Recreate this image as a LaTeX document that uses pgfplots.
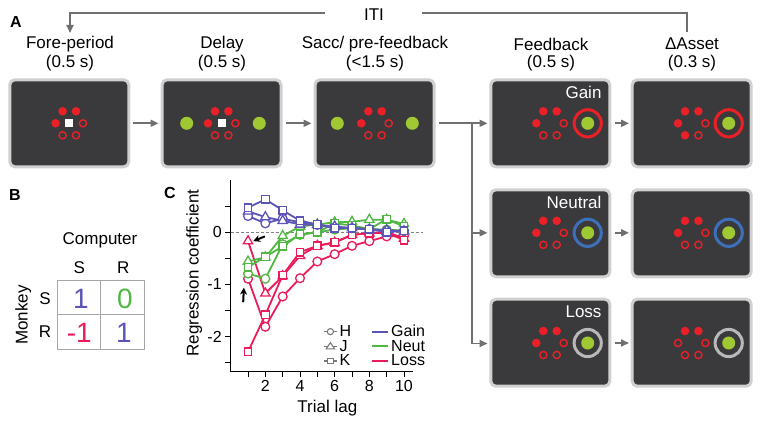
\documentclass[border=0pt]{standalone}
\usepackage{fontspec}
\setmainfont{Liberation Sans}
\usepackage{pgfplots}
\usepackage{pgfplotstable}
\pgfplotsset{compat=1.18}
\usetikzlibrary{arrows.meta}

\definecolor{cblue}{RGB}{92,84,182}
\definecolor{cgreen}{RGB}{80,184,66}
\definecolor{cred}{RGB}{234,28,90}
\definecolor{scr}{RGB}{58,58,60}
\definecolor{scrb}{RGB}{208,208,208}
\definecolor{dotred}{RGB}{234,32,40}
\definecolor{dotgreen}{RGB}{160,200,50}
\definecolor{ringblue}{RGB}{62,112,186}
\definecolor{ringgray}{RGB}{184,184,184}
\definecolor{agray}{RGB}{112,112,112}
\definecolor{lgray}{RGB}{120,120,120}

\pgfplotstableread{
lag gH gJ gK nH nJ nK lH lJ lK
1 0.31 0.40 0.47 -0.79 -0.56 -0.67 -0.89 -0.17 -2.29
2 0.17 0.29 0.63 -0.89 -0.48 -0.47 -1.81 -1.17 -1.58
3 0.26 0.22 0.42 -0.23 -0.07 -0.27 -1.23 -0.84 -0.82
4 0.19 0.15 0.22 -0.05 0.11 -0.04 -0.88 -0.45 -0.38
5 0.14 0.14 0.15 0.00 0.15 0.00 -0.56 -0.26 -0.26
6 0.09 0.11 0.08 0.05 0.19 0.17 -0.42 -0.20 -0.19
7 0.08 0.08 0.08 0.08 0.20 0.13 -0.26 -0.05 -0.05
8 0.06 0.05 0.06 0.06 0.24 0.06 -0.17 -0.02 -0.02
9 0.03 0.04 0.00 0.05 0.24 0.25 -0.08 0.01 -0.01
10 0.03 0.02 0.03 0.03 0.16 0.11 -0.07 -0.12 -0.15
}\datatab

\newcommand{\screen}[2]{\draw[scrb, line width=3pt, fill=scr, rounded corners=5pt] (#1+1.5,#2+1.5) rectangle (#1+120.5,#2+88.5);}
\newcommand{\dotring}[8]{%
 \begin{scope}[shift={(#1,#2)}]
  \path[#3] (-6.7,-12) circle;
  \path[#4] (6.7,-12) circle;
  \path[#5] (-13.7,0) circle;
  \path[#6] (13.7,0) circle;
  \path[#7] (-6.7,12) circle;
  \path[#8] (6.7,12) circle;
 \end{scope}}
\newcommand{\target}[3]{\draw[#3, line width=3pt] (#1,#2) circle[radius=13.6]; \fill[dotgreen] (#1,#2) circle[radius=6.5];}
\tikzset{F/.style={fill=dotred, radius=4.3}, O/.style={draw=dotred, line width=1.4pt, radius=3.6},
 garrow/.style={agray, line width=1.8pt, -{Triangle[length=8pt,width=7pt]}}}

\begin{document}
\begin{tikzpicture}
\path[use as bounding box] (0,0) rectangle (762pt,424pt);
\begin{scope}[x=1pt,y=-1pt,shift={(0pt,424pt)}, font=\fontsize{17}{19}\selectfont]
 % panel letters
 \node[font=\fontsize{16}{16}\selectfont\bfseries] at (16,22) {A};
 \node[font=\fontsize{16}{16}\selectfont\bfseries] at (15,195) {B};
 \node[font=\fontsize{16}{16}\selectfont\bfseries] at (170,193) {C};
 % ITI loop
 \draw[agray, line width=1.8pt, {Triangle[length=8pt,width=7pt]}-] (70,33) -- (70,13.3) -- (325,13.3);
 \draw[agray, line width=1.8pt] (421.7,13.3) -- (686.7,13.3) -- (686.7,32);
 \node at (374,15) {ITI};
 % headings
 \node at (70,44) {Fore-period}; \node at (70,63) {(0.5 s)};
 \node at (222,44) {Delay}; \node at (222,63) {(0.5 s)};
 \node at (375,44) {Sacc/ pre-feedback}; \node at (375,63) {(<1.5 s)};
 \node at (551,44) {Feedback}; \node at (551,63) {(0.5 s)};
 \node at (692,44) {ΔAsset}; \node at (692,63) {(0.3 s)};
 % screens
 \screen{8.3}{78.3} \screen{160.5}{78.3} \screen{313.5}{78.3}
 \screen{489.3}{78.3} \screen{630.7}{78.3}
 \screen{489.3}{188.3} \screen{630.7}{188.3}
 \screen{489.3}{297.7} \screen{630.7}{297.7}
 % screen 1
 \dotring{69.3}{123.3}{F}{F}{F}{O}{O}{O}
 \fill[white] (65.3,119.3) rectangle (73.3,127.3);
 % screen 2
 \dotring{221.7}{123.3}{F}{F}{F}{O}{O}{O}
 \fill[white] (217.7,119.3) rectangle (225.7,127.3);
 \fill[dotgreen] (186.7,123.3) circle[radius=6.5];
 \fill[dotgreen] (259.3,123.3) circle[radius=6.5];
 % screen 3
 \dotring{375}{123.3}{F}{F}{F}{O}{O}{O}
 \fill[dotgreen] (337.3,123.3) circle[radius=6.5];
 \fill[dotgreen] (412.3,123.3) circle[radius=6.5];
 % feedback / asset
 \dotring{550}{123.3}{F}{F}{F}{O}{O}{O} \target{587.7}{123.3}{dotred}
 \dotring{691.7}{123.3}{F}{F}{F}{O}{F}{O} \target{728.7}{123.3}{dotred}
 \dotring{550}{232.8}{F}{F}{F}{O}{O}{O} \target{587.7}{232.8}{ringblue}
 \dotring{691.7}{232.8}{F}{F}{F}{O}{O}{O} \target{728.7}{232.8}{ringblue}
 \dotring{550}{343}{F}{F}{F}{O}{O}{O} \target{587.7}{343}{ringgray}
 \dotring{691.7}{343}{F}{F}{O}{O}{O}{O} \target{728.7}{343}{ringgray}
 \node[white, anchor=east] at (605,92) {Gain};
 \node[white, anchor=east] at (605,202) {Neutral};
 \node[white, anchor=east] at (605,312) {Loss};
 % arrows
 \draw[garrow] (132.7,123.3) -- (158.5,123.3);
 \draw[garrow] (285.5,123.3) -- (311.5,123.3);
 \draw[agray, line width=1.8pt] (439,123.3) -- (471.7,123.3);
 \draw[agray, line width=1.8pt] (471.7,123.3) -- (471.7,344);
 \draw[garrow] (471,123.3) -- (487.5,123.3);
 \draw[garrow] (471,232.8) -- (487.5,232.8);
 \draw[garrow] (471,343.5) -- (487.5,343.5);
 \draw[garrow] (615,123.3) -- (629,123.3);
 \draw[garrow] (615,232.8) -- (629,232.8);
 \draw[garrow] (615,343) -- (629,343);
 % panel B
 \node at (100,240) {Computer};
 \node at (79.3,267.3) {S}; \node at (123.3,267.3) {R};
 \node at (45,298.3) {S}; \node at (45,331.7) {R};
 \node[rotate=90] at (23.3,315) {Monkey};
 \draw[gray!70, line width=0.8pt] (57.3,280) rectangle (144,349) (100.7,280) -- (100.7,349) (57.3,314.3) -- (144,314.3);
 \node[font=\fontsize{28}{28}\selectfont, text=cblue] at (81,298.8) {1};
 \node[font=\fontsize{28}{28}\selectfont, text=cgreen] at (125,298.8) {0};
 \node[font=\fontsize{28}{28}\selectfont, text=cred] at (79.3,333.3) {-1};
 \node[font=\fontsize{28}{28}\selectfont, text=cblue] at (124,333.3) {1};
\end{scope}

\begin{axis}[
 at={(230.7pt,52.3pt)}, anchor=south west,
 scale only axis, width=182.3pt, height=191.7pt,
 xmin=0, xmax=10.52, ymin=-2.67, ymax=1.0,
 axis lines*=left, axis line style={line width=1pt, black},
 xtick={2,4,6,8,10}, minor xtick={1,3,5,7,9},
 ytick={-2,-1,0}, minor ytick={-2.5,-1.5,-0.5,0.5},
 tick align=outside, major tick length=5.5pt, minor tick length=5.5pt,
 tick style={black, line width=0.9pt},
 ticklabel style={font=\fontsize{16}{16}\selectfont},
 /pgf/number format/assume math mode=true,
 xlabel={Trial lag}, ylabel={Regression coefficient},
 label style={font=\fontsize{17}{17}\selectfont},
 x label style={at={(axis description cs:0.53,-0.19)}, anchor=center},
 y label style={at={(axis description cs:-0.2,0.515)}, anchor=center},
 clip=false,
 legend columns=2,
 legend cell align=left,
 legend style={at={(axis description cs:1.078,0.012)}, anchor=south east, draw=none, fill=none,
   font=\fontsize{16}{16}\selectfont, inner sep=0pt, row sep=-2pt,
   /tikz/every even column/.append style={column sep=18pt}},
]
\addlegendimage{legend image code/.code={\draw[lgray, line width=1.5pt] (0pt,0pt)--(13pt,0pt); \draw[lgray, line width=1.1pt, fill=white] (6.5pt,0pt) circle (3.1pt);}}
\addlegendentry{H}
\addlegendimage{legend image code/.code={\draw[cblue, line width=2pt] (0pt,0pt)--(16pt,0pt);}}
\addlegendentry{Gain}
\addlegendimage{legend image code/.code={\draw[lgray, line width=1.5pt] (0pt,0pt)--(13pt,0pt); \draw[lgray, line width=1.1pt, fill=white] (6.5pt,3.8pt)--(2.3pt,-2.4pt)--(10.7pt,-2.4pt)--cycle;}}
\addlegendentry{J}
\addlegendimage{legend image code/.code={\draw[cgreen, line width=2pt] (0pt,0pt)--(16pt,0pt);}}
\addlegendentry{Neut}
\addlegendimage{legend image code/.code={\draw[lgray, line width=1.5pt] (0pt,0pt)--(13pt,0pt); \draw[lgray, line width=1.1pt, fill=white] (3.6pt,-2.9pt) rectangle (9.4pt,2.9pt);}}
\addlegendentry{K}
\addlegendimage{legend image code/.code={\draw[cred, line width=2pt] (0pt,0pt)--(16pt,0pt);}}
\addlegendentry{Loss}

\draw[gray, dashed, line width=0.8pt, dash pattern=on 3pt off 2pt] (axis cs:0,0) -- (axis cs:11.1,0);

\pgfplotsset{cycle list={}, every axis plot/.append style={line width=1.8pt, mark options={fill=white, solid, line width=1.3pt}, forget plot}}
\addplot[cred, mark=*, mark size=4.4pt] table[x=lag,y=lH] {\datatab};
\addplot[cred, mark=triangle*, mark size=5.4pt] table[x=lag,y=lJ] {\datatab};
\addplot[cred, mark=square*, mark size=3.8pt] table[x=lag,y=lK] {\datatab};
\addplot[cgreen, mark=*, mark size=4.4pt] table[x=lag,y=nH] {\datatab};
\addplot[cgreen, mark=triangle*, mark size=5.4pt] table[x=lag,y=nJ] {\datatab};
\addplot[cgreen, mark=square*, mark size=3.8pt] table[x=lag,y=nK] {\datatab};
\addplot[cblue, mark=*, mark size=4.4pt] table[x=lag,y=gH] {\datatab};
\addplot[cblue, mark=triangle*, mark size=5.4pt] table[x=lag,y=gJ] {\datatab};
\addplot[cblue, mark=square*, mark size=3.8pt] table[x=lag,y=gK] {\datatab};

\draw[black, line width=2pt, -{Stealth[length=7pt,width=7pt]}] (axis cs:1.97,-0.08) -- (axis cs:1.3,-0.17);
\draw[black, line width=2pt, -{Stealth[length=7pt,width=7pt]}] (axis cs:0.72,-1.34) -- (axis cs:0.76,-1.06);
\end{axis}
\end{tikzpicture}
\end{document}
